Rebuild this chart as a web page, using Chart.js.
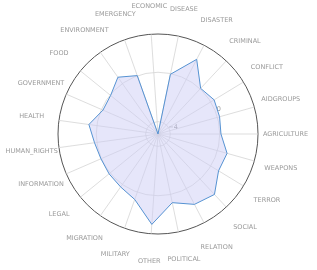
<!DOCTYPE html>
<html>
<head>
<meta charset="utf-8">
<script src="https://cdn.jsdelivr.net/npm/chart.js@4"></script>
<style>
  body { margin: 0; background: #fff; }
  #wrap { width: 317px; height: 270px; }
</style>
</head>
<body>
<div id="wrap"><canvas id="radar"></canvas></div>
<script>
// categories in reading order (counter-clockwise from the right)
let categories = ["AGRICULTURE", "AIDGROUPS", "CONFLICT", "CRIMINAL", "DISASTER", "DISEASE", "ECONOMIC",
    "EMERGENCY", "ENVIRONMENT", "FOOD", "GOVERNMENT", "HEALTH", "HUMAN_RIGHTS", "INFORMATION", "LEGAL",
    "MIGRATION", "MILITARY", "OTHER", "POLITICAL", "RELATION", "SOCIAL", "TERROR", "WEAPONS"];
let values = [0.10, 0.18, 0.32, 0.06, 1.81, -0.06, -5.0,
    0.02, 0.63, -0.05, -0.14, 0.65, 0.19, 0.04, 0.11,
    0.25, 0.63, 2.34, 0.68, 1.42, 1.70, 0.74, 0.81];
let rTicks = [-4, 0];
let rMin = -5;
let rMax = 3.1;

// chart.js goes clockwise, the picture goes counter-clockwise
function ccw(arr) {
    return [arr[0]].concat(arr.slice(1).reverse());
}

const labelFont = '6.5px "DejaVu Sans", sans-serif';

const labelsPlugin = {
    id: 'polarLabels',
    beforeDatasetsDraw(chart) {
        let scale = chart.scales.r;
        let ctx = chart.ctx;
        ctx.save();
        ctx.font = labelFont;
        ctx.fillStyle = '#999';
        ctx.textAlign = 'center';
        ctx.textBaseline = 'middle';
        let a = 22.5 * Math.PI / 180;
        rTicks.forEach(v => {
            let d = scale.getDistanceFromCenterForValue(v) + 4;
            let txt = v < 0 ? '\u2212' + Math.abs(v) : String(v);
            ctx.fillText(txt, scale.xCenter + Math.cos(a) * d, scale.yCenter - Math.sin(a) * d);
        });
        ctx.restore();
    },
    afterDraw(chart) {
        let scale = chart.scales.r;
        let ctx = chart.ctx;
        ctx.save();
        ctx.font = labelFont;
        ctx.fillStyle = '#999';
        ctx.textAlign = 'center';
        ctx.textBaseline = 'middle';
        chart.data.labels.forEach((lbl, i) => {
            let p = scale.getPointPosition(i, scale.drawingArea + 27.5);
            ctx.fillText(lbl, p.x, p.y);
        });
        ctx.restore();
    }
};

new Chart(document.getElementById('radar').getContext('2d'), {
    type: 'radar',
    data: {
        labels: ccw(categories),
        datasets: [{
            data: ccw(values),
            borderColor: '#5592d2',
            backgroundColor: 'rgba(205, 205, 245, 0.5)',
            borderWidth: 1,
            pointRadius: 0,
            tension: 0,
            fill: 'start'
        }]
    },
    options: {
        responsive: true,
        maintainAspectRatio: false,
        animation: false,
        layout: { padding: { top: 34, bottom: 35, left: 0, right: 0 } },
        plugins: {
            legend: { display: false },
            tooltip: { enabled: false }
        },
        scales: {
            r: {
                min: rMin,
                max: rMax,
                startAngle: 90,
                afterBuildTicks: scale => {
                    scale.ticks = [rMin].concat(rTicks, [rMax]).map(v => ({ value: v }));
                },
                ticks: { display: false },
                pointLabels: { display: false },
                angleLines: { color: '#d4d4d4', lineWidth: 0.8 },
                grid: {
                    circular: true,
                    color: ctx => ctx.tick && ctx.tick.value === rMax ? '#555' : '#d4d4d4',
                    lineWidth: ctx => ctx.tick && ctx.tick.value === rMax ? 1 : 0.8
                }
            }
        }
    },
    plugins: [labelsPlugin]
});
</script>
</body>
</html>
